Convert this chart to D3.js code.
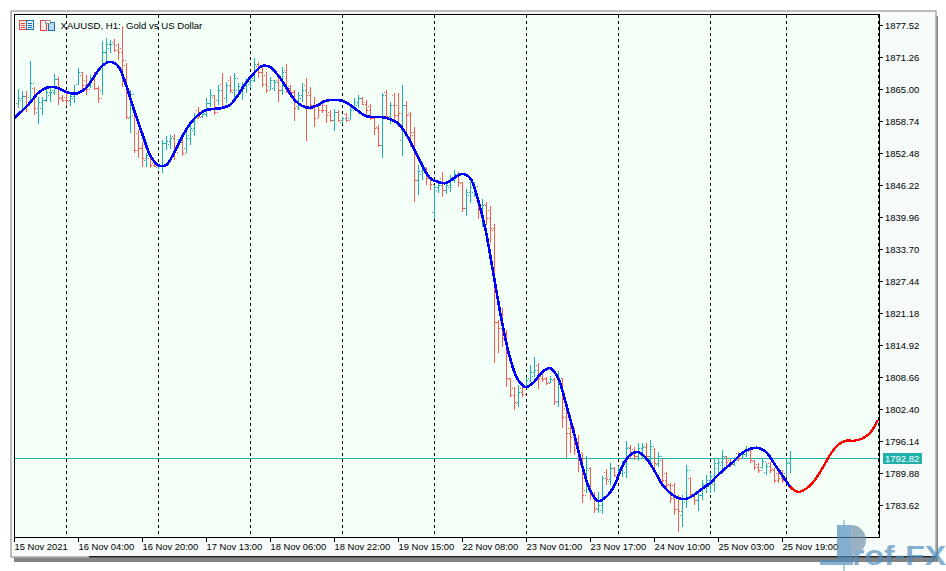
<!DOCTYPE html>
<html><head><meta charset="utf-8">
<script src="https://cdn.jsdelivr.net/npm/d3@7/dist/d3.min.js"></script>
<style>html,body{margin:0;padding:0;background:#fff;overflow:hidden}svg{display:block}text{font-family:"Liberation Sans",sans-serif}</style>
</head><body><svg id="c" width="946" height="571"></svg>
<script>
const symbolTitle = "XAUUSD, H1:  Gold vs US Dollar";
const priceTicks = [1877.52,1871.26,1865.00,1858.74,1852.48,1846.22,1839.96,1833.70,1827.44,1821.18,1814.92,1808.66,1802.40,1796.14,1789.88,1783.62];
const bidPrice = 1792.82;
const timeTickIndex = [-1,15,31,47,63,79,95,111,127,143,159,175,191];
const timeTickLabels = ["15 Nov 2021","16 Nov 04:00","16 Nov 20:00","17 Nov 13:00","18 Nov 06:00","18 Nov 22:00","19 Nov 15:00","22 Nov 08:00","23 Nov 01:00","23 Nov 17:00","24 Nov 10:00","25 Nov 03:00","25 Nov 19:00"];
const daySeparators = [12,35,58,81,104,127,150,173,192,215];
const highs = [1865.0,1864.6,1864.6,1870.5,1865.4,1863.4,1863.4,1865.6,1865.4,1867.9,
1867.4,1863.8,1864.4,1864.2,1865.8,1869.1,1868.3,1867.7,1867.7,1868.3,
1865.6,1874.4,1875.0,1874.6,1874.8,1874.0,1877.3,1870.1,1864.8,1860.5,
1857.0,1854.6,1852.5,1851.7,1850.7,1850.3,1855.0,1855.8,1856.0,1856.2,
1855.2,1855.4,1856.6,1858.3,1860.3,1861.5,1860.3,1863.2,1865.0,1863.8,
1865.8,1868.1,1866.4,1867.5,1868.1,1866.2,1866.4,1867.2,1867.5,1871.1,
1870.3,1869.3,1868.3,1867.4,1866.8,1867.2,1869.3,1869.9,1865.8,1864.8,
1864.4,1866.2,1867.2,1865.4,1863.4,1862.3,1862.9,1861.9,1860.9,1861.1,
1860.9,1859.5,1860.3,1861.3,1863.2,1863.8,1863.4,1862.9,1862.1,1859.5,
1858.0,1864.2,1864.8,1862.5,1864.2,1864.2,1865.8,1862.7,1860.5,1857.6,
1850.1,1850.7,1849.8,1847.6,1846.2,1847.2,1848.8,1846.8,1848.2,1849.2,
1848.8,1846.8,1845.4,1846.8,1846.8,1843.7,1843.5,1842.9,1842.1,1838.6,
1819.8,1822.2,1817.9,1808.5,1806.7,1807.1,1806.7,1808.7,1811.0,1812.6,
1811.4,1810.0,1808.7,1808.9,1808.5,1809.8,1808.5,1803.2,1799.3,1798.7,
1797.3,1793.8,1793.2,1791.1,1786.2,1786.2,1789.3,1790.7,1791.8,1791.1,
1791.3,1792.2,1796.1,1795.4,1795.0,1795.8,1795.8,1795.8,1796.3,1794.8,
1794.0,1792.6,1790.1,1787.9,1787.9,1785.6,1785.6,1791.4,1789.1,1785.8,
1786.4,1788.5,1789.5,1789.9,1792.8,1792.8,1794.4,1793.2,1792.6,1793.0,
1794.0,1794.0,1795.2,1794.4,1792.4,1791.8,1792.8,1791.8,1792.0,1790.9,
1790.1,1790.5,1792.6,1794.2];
const lows = [1861.3,1860.7,1860.5,1862.9,1859.9,1858.2,1859.9,1862.5,1862.5,1863.8,
1861.9,1862.5,1861.7,1861.7,1862.3,1865.8,1864.4,1863.8,1865.2,1864.8,
1862.3,1863.8,1870.3,1872.0,1872.2,1870.7,1865.4,1859.1,1856.4,1852.5,
1851.5,1849.8,1849.8,1849.6,1849.8,1849.4,1848.6,1853.1,1853.3,1851.1,
1853.5,1851.9,1852.5,1854.0,1855.8,1859.1,1859.3,1859.5,1861.5,1859.9,
1861.9,1861.1,1862.3,1864.2,1863.2,1864.2,1862.9,1864.2,1865.2,1866.4,
1867.2,1865.4,1864.2,1864.8,1864.6,1862.5,1863.8,1864.2,1863.8,1858.7,
1860.9,1862.5,1854.8,1860.9,1857.6,1859.3,1860.3,1858.3,1858.5,1856.8,
1858.5,1858.2,1858.5,1858.9,1860.9,1861.3,1861.9,1859.9,1858.9,1856.0,
1853.7,1851.5,1859.5,1858.2,1858.5,1857.6,1851.9,1856.0,1853.7,1842.9,
1844.3,1847.2,1846.2,1845.3,1839.6,1844.7,1843.9,1844.5,1844.9,1846.6,
1845.8,1840.9,1840.2,1842.7,1843.9,1839.6,1838.0,1838.4,1834.9,1811.4,
1813.4,1814.5,1806.7,1804.8,1802.2,1802.8,1804.8,1806.5,1807.7,1808.7,
1806.3,1807.7,1807.1,1807.5,1803.2,1802.8,1798.7,1792.8,1793.8,1793.4,
1790.1,1784.0,1786.0,1784.6,1782.1,1782.1,1781.9,1787.5,1787.5,1789.1,
1788.9,1789.1,1788.9,1792.8,1792.4,1792.2,1792.8,1792.6,1792.0,1790.7,
1791.1,1787.2,1787.0,1784.0,1781.7,1778.3,1779.3,1783.0,1785.2,1783.6,
1782.4,1784.6,1786.0,1786.0,1786.2,1789.7,1790.1,1790.9,1791.1,1791.3,
1792.2,1792.6,1793.0,1791.8,1790.5,1789.9,1790.7,1789.5,1789.9,1787.9,
1787.9,1787.9,1789.1,1789.9];
const opens = [1862.3,1862.9,1863.6,1863.4,1865.2,1860.5,1861.3,1862.9,1863.8,1864.8,
1867.0,1863.4,1863.4,1862.7,1863.2,1866.0,1867.7,1866.8,1866.0,1867.2,
1865.2,1864.8,1872.2,1873.0,1874.2,1873.6,1873.0,1869.7,1859.3,1859.9,
1856.4,1853.5,1851.1,1851.5,1850.5,1849.8,1849.9,1854.4,1854.2,1855.8,
1853.8,1854.6,1853.5,1856.0,1857.0,1860.9,1859.5,1860.3,1862.3,1863.4,
1862.9,1866.0,1863.2,1866.8,1864.4,1864.8,1864.4,1865.2,1866.0,1867.2,
1869.5,1868.3,1867.7,1865.6,1865.2,1866.8,1864.8,1868.7,1865.6,1864.4,
1861.7,1863.2,1865.8,1864.4,1861.9,1861.9,1861.9,1861.9,1860.5,1858.9,
1860.5,1858.5,1860.1,1859.3,1861.3,1861.9,1863.2,1862.5,1861.7,1859.3,
1857.6,1854.0,1864.4,1859.3,1863.8,1861.9,1855.0,1861.9,1860.3,1856.0,
1847.2,1848.4,1849.6,1847.6,1841.0,1845.3,1847.6,1845.3,1845.8,1847.2,
1848.2,1846.6,1841.7,1844.3,1844.9,1843.3,1840.4,1842.5,1841.3,1837.4,
1819.4,1819.4,1816.9,1808.3,1806.5,1803.6,1806.5,1807.1,1808.5,1808.9,
1811.0,1808.9,1808.5,1807.7,1808.1,1803.8,1808.1,1802.6,1798.7,1798.3,
1796.7,1793.4,1786.6,1790.5,1785.8,1783.0,1782.6,1790.1,1788.3,1790.9,
1789.3,1790.1,1790.1,1795.0,1794.6,1793.2,1793.6,1795.2,1793.2,1794.6,
1791.6,1792.4,1789.9,1787.7,1787.5,1785.2,1781.7,1784.2,1788.9,1785.6,
1784.6,1785.6,1787.0,1787.4,1787.7,1790.9,1791.4,1793.0,1792.4,1791.6,
1793.8,1792.8,1793.6,1794.2,1792.2,1791.6,1791.1,1790.1,1791.8,1790.7,
1789.9,1790.3,1789.9,1792.0];
const closes = [1863.2,1863.6,1861.9,1866.2,1861.3,1862.5,1862.9,1864.4,1864.4,1867.0,
1863.2,1862.9,1862.9,1863.6,1864.2,1868.3,1865.8,1865.0,1867.2,1865.2,
1863.2,1872.2,1873.8,1873.8,1872.6,1872.2,1870.7,1859.5,1864.0,1853.1,
1853.5,1851.5,1852.1,1850.1,1849.9,1850.1,1854.4,1854.8,1855.4,1852.7,
1854.6,1852.5,1855.4,1857.4,1859.3,1859.7,1860.1,1862.3,1863.8,1860.5,
1864.8,1861.7,1865.8,1864.8,1867.2,1865.6,1865.8,1866.4,1866.8,1869.9,
1868.3,1866.0,1864.8,1866.8,1866.4,1864.8,1868.3,1865.2,1864.4,1861.3,
1863.8,1864.8,1863.8,1861.9,1859.3,1860.9,1860.9,1859.9,1858.9,1860.5,
1858.9,1859.3,1858.9,1860.9,1862.5,1863.2,1862.1,1860.9,1859.3,1857.4,
1854.0,1863.8,1859.7,1861.9,1859.9,1860.3,1861.9,1859.9,1856.6,1847.2,
1849.0,1849.6,1847.6,1846.4,1845.8,1846.2,1845.3,1846.2,1847.2,1848.4,
1846.8,1841.7,1844.9,1845.8,1846.0,1841.3,1842.3,1839.8,1837.8,1819.4,
1818.3,1816.3,1808.5,1805.2,1803.8,1805.7,1805.3,1808.1,1809.6,1810.0,
1808.5,1808.3,1807.5,1808.3,1804.0,1808.5,1800.9,1797.7,1796.9,1794.4,
1794.0,1785.6,1790.9,1785.6,1782.8,1783.6,1788.9,1788.7,1790.9,1789.5,
1790.5,1791.3,1794.8,1793.4,1793.2,1794.8,1795.0,1793.2,1795.2,1791.8,
1793.2,1788.5,1787.5,1785.0,1782.8,1782.4,1785.0,1790.5,1785.8,1784.6,
1785.6,1787.7,1788.5,1789.3,1791.8,1792.0,1793.2,1792.0,1791.6,1792.4,
1792.8,1793.6,1794.4,1792.4,1791.1,1790.5,1792.2,1791.3,1790.5,1788.5,
1788.9,1788.5,1791.8,1792.82];
// smoothed line sampled every second bar, from bar -1 to bar 215
const smoothLine = [1859.3,1860.7,1862.3,1864.2,1865.2,1865.4,1864.8,1864.2,1864.2,1865.2,
1867.4,1869.5,1870.3,1869.5,1865.8,1860.9,1856.4,1852.1,1850.1,1850.1,
1852.5,1855.6,1858.2,1859.9,1860.9,1861.1,1861.3,1861.9,1863.8,1866.2,
1868.1,1869.5,1869.3,1867.7,1865.4,1863.0,1861.7,1861.3,1861.9,1862.7,
1862.85,1862.7,1861.9,1860.7,1859.7,1859.5,1859.5,1859.1,1858.3,1856.2,
1853.3,1850.1,1847.6,1846.8,1846.6,1847.6,1848.4,1847.6,1843.3,1837.0,
1828.2,1819.4,1812.4,1808.1,1806.7,1807.7,1809.6,1810.4,1808.5,1803.4,
1797.7,1791.4,1786.6,1784.4,1785.2,1787.3,1791.1,1793.4,1794.0,1792.8,
1790.5,1787.7,1786.0,1785.0,1784.8,1785.6,1786.8,1787.9,1789.5,1790.9,
1792.2,1793.8,1794.6,1794.8,1794.0,1791.8,1789.5,1787.2,1786.2,1786.8,
1788.3,1790.7,1793.4,1795.4,1796.2,1796.2,1796.6,1797.7,1800.3];
const forecastStart = 97; // sample where the line turns from history to forecast

const UP = "#20b2aa", DOWN = "#fa5a50";
const svg = d3.select("#c");
const W = {l:14, r:879, t:14, b:537};
const x = d3.scaleLinear().domain([-1,215]).range([14,878]);
const y = d3.scaleLinear().domain([1777.37,1879.67]).range([537,14]);

// window chrome
svg.append("rect").attr("width",946).attr("height",571).attr("fill","#fff");
svg.append("rect").attr("x",14).attr("y",16).attr("width",924).attr("height",546).attr("fill","#6e6e6e").attr("opacity",.85);
svg.append("rect").attr("x",11).attr("y",11).attr("width",925).attr("height",546).attr("fill","#f6fbf9").attr("stroke","#a8a8a8").attr("stroke-width",1.5);
svg.append("rect").attr("x",W.l+.5).attr("y",W.t+.5).attr("width",W.r-W.l).attr("height",W.b-W.t)
  .attr("fill","#f4fff8").attr("stroke","#000").attr("shape-rendering","crispEdges");

svg.append("defs").append("clipPath").attr("id","plot").append("rect")
  .attr("x",W.l+1).attr("y",W.t+1).attr("width",W.r-W.l-1).attr("height",W.b-W.t-1);
const plot = svg.append("g").attr("clip-path","url(#plot)");

// separators
plot.selectAll("line.sep").data(daySeparators).join("line")
  .attr("x1",d=>x(d)+.5).attr("x2",d=>x(d)+.5).attr("y1",W.t+1).attr("y2",W.b)
  .attr("stroke","#000").attr("stroke-dasharray","3,3").attr("shape-rendering","crispEdges");

// bid line
plot.append("line").attr("x1",W.l).attr("x2",W.r).attr("y1",Math.round(y(bidPrice))+.5).attr("y2",Math.round(y(bidPrice))+.5)
  .attr("stroke",UP).attr("shape-rendering","crispEdges");

// OHLC bars
const bars = plot.append("g").attr("shape-rendering","crispEdges");
highs.forEach((h,i)=>{
  const col = closes[i]>=opens[i]?UP:DOWN, px=x(i)+.5;
  bars.append("line").attr("x1",px).attr("x2",px).attr("y1",Math.round(y(h))).attr("y2",Math.round(y(lows[i]))).attr("stroke",col);
  const oy=Math.round(y(opens[i]))+.5, cy=Math.round(y(closes[i]))+.5;
  bars.append("line").attr("x1",px-3).attr("x2",px).attr("y1",oy).attr("y2",oy).attr("stroke",col).attr("stroke-dasharray","1,1");
  bars.append("line").attr("x1",px).attr("x2",px+3).attr("y1",cy).attr("y2",cy).attr("stroke",col).attr("stroke-dasharray","1,1");
});

// smoothed line
const pts = smoothLine.map((v,k)=>[x(-1+2*k),y(v)]);
const ln = d3.line().curve(d3.curveCatmullRom);
plot.append("path").attr("d",ln(pts.slice(forecastStart))).attr("fill","none").attr("stroke","#ff0000").attr("stroke-width",2.4).attr("shape-rendering","crispEdges");
plot.append("path").attr("d",ln(pts.slice(0,forecastStart+1))).attr("fill","none").attr("stroke","#0000ff").attr("stroke-width",2.6).attr("shape-rendering","crispEdges");

// price axis
const gy = svg.append("g");
priceTicks.forEach(p=>{
  const py=Math.round(y(p))+.5;
  gy.append("line").attr("x1",W.r).attr("x2",W.r+4).attr("y1",py).attr("y2",py).attr("stroke","#000").attr("shape-rendering","crispEdges");
  gy.append("text").attr("x",W.r+6).attr("y",py+3.5).attr("font-size",9.5).attr("fill","#000").text(p.toFixed(2));
});
const by=Math.round(y(bidPrice));
gy.append("rect").attr("x",883).attr("y",by-5).attr("width",39).attr("height",11).attr("fill",UP);
gy.append("text").attr("x",885).attr("y",by+4).attr("font-size",9.5).attr("fill","#fff").text(bidPrice.toFixed(2));

// time axis
const gx = svg.append("g");
timeTickIndex.forEach((t,k)=>{
  const px=x(t)+.5;
  gx.append("line").attr("x1",px).attr("x2",px).attr("y1",W.b).attr("y2",W.b+5).attr("stroke","#000").attr("shape-rendering","crispEdges");
  gx.append("text").attr("x",x(t)+.5).attr("y",550).attr("font-size",9.4).attr("fill","#000").text(timeTickLabels[k]);
});

// title + icons
const ic = svg.append("g").attr("shape-rendering","crispEdges");
ic.append("rect").attr("x",19.5).attr("y",20.5).attr("width",7).attr("height",9).attr("fill","#fdeaea").attr("stroke","#e8423c");
ic.append("rect").attr("x",26.5).attr("y",20.5).attr("width",6.5).attr("height",9).attr("fill","#e3f0fa").attr("stroke","#1a6fb0");
[23,25,27].forEach(v=>{
  ic.append("line").attr("x1",21).attr("x2",25).attr("y1",v+.5).attr("y2",v+.5).attr("stroke","#e8423c");
  ic.append("line").attr("x1",28).attr("x2",32).attr("y1",v+.5).attr("y2",v+.5).attr("stroke","#1a6fb0");
});
ic.append("rect").attr("x",40.5).attr("y",20.5).attr("width",6).attr("height",10).attr("fill","#fdeaea").attr("stroke","#e8423c");
ic.append("rect").attr("x",48.5).attr("y",22.5).attr("width",5.5).attr("height",8).attr("fill","#bcdcf4").attr("stroke","#1a6fb0");
ic.append("rect").attr("x",45.5).attr("y",20.5).attr("width",5).attr("height",3).attr("fill","#eee").attr("stroke","#999");
svg.append("text").attr("x",60.5).attr("y",29).attr("font-size",9.6).attr("fill","#000").attr("xml:space","preserve").text(symbolTitle);

// bottom tab edge
svg.append("rect").attr("x",89).attr("y",556).attr("width",847).attr("height",1.5).attr("fill","#222");

// watermark
const wm = svg.append("g").attr("opacity",.68).attr("fill","#4f8cbc");
wm.append("rect").attr("x",843).attr("y",520).attr("width",2).attr("height",51).attr("fill","#8fb4d2");
wm.append("rect").attr("x",820).attr("y",560).attr("width",26).attr("height",5);
wm.append("rect").attr("x",837).attr("y",525).attr("width",16).attr("height",40);
wm.append("path").attr("d",d3.arc()({innerRadius:0,outerRadius:15,startAngle:0,endAngle:Math.PI})).attr("transform","translate(851,540)").attr("fill","#6f8fa8");
wm.append("text").attr("x",852).attr("y",565).attr("font-size",28).attr("font-weight","bold").attr("textLength",94).attr("lengthAdjust","spacingAndGlyphs").text("rof-FX");
</script></body></html>
